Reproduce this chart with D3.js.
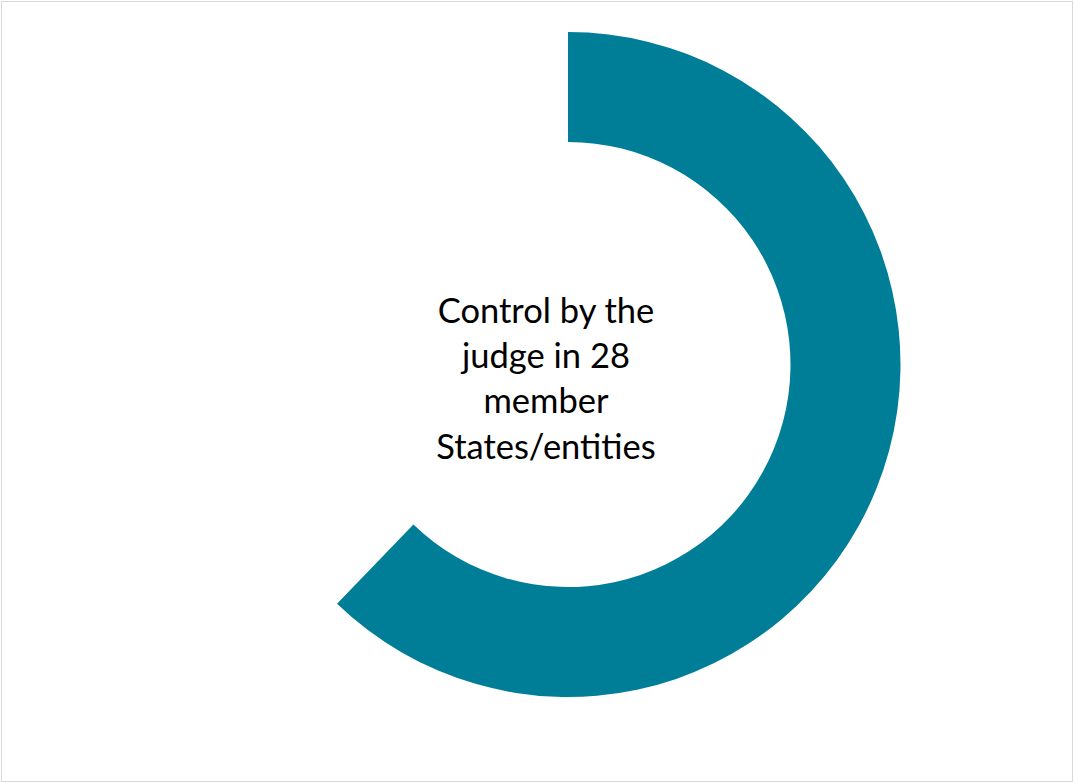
<!DOCTYPE html>
<html>
<head>
<meta charset="utf-8">
<script src="https://cdn.jsdelivr.net/npm/d3@7"></script>
<style>
  html, body { margin: 0; padding: 0; background: #fff; }
  svg { display: block; }
</style>
</head>
<body>
<script>
// Data
const categories = ["Control by the judge", "Other"];
const values = [28, 17];
const colors = ["#007E98", "none"];
const centerLabel = ["Control by the", "judge in 28", "member", "States/entities"];

const W = 1074, H = 782;
const svg = d3.select("body").append("svg").attr("width", W).attr("height", H);

svg.append("rect")
  .attr("x", 1.5).attr("y", 1.5)
  .attr("width", W - 3).attr("height", H - 2)
  .attr("fill", "#fff").attr("stroke", "#d9d9d9").attr("stroke-width", 1);

const cx = 568, cy = 364.5;
const outerR = 332.5, innerR = 222.5;

const pie = d3.pie().sort(null).value(d => d)(values);
const arc = d3.arc().innerRadius(innerR).outerRadius(outerR);

const g = svg.append("g").attr("transform", `translate(${cx},${cy})`);
g.selectAll("path").data(pie).join("path")
  .attr("d", arc)
  .attr("fill", (d, i) => colors[i]);

const text = svg.append("text")
  .attr("x", 546)
  .attr("text-anchor", "middle")
  .style("font-family", "Lato, 'Open Sans', sans-serif")
  .style("font-size", "34.5px")
  .attr("fill", "#000");
centerLabel.forEach((t, i) => {
  text.append("tspan").attr("x", 546).attr("y", 322.5 + i * 45.4).text(t);
});
</script>
</body>
</html>
